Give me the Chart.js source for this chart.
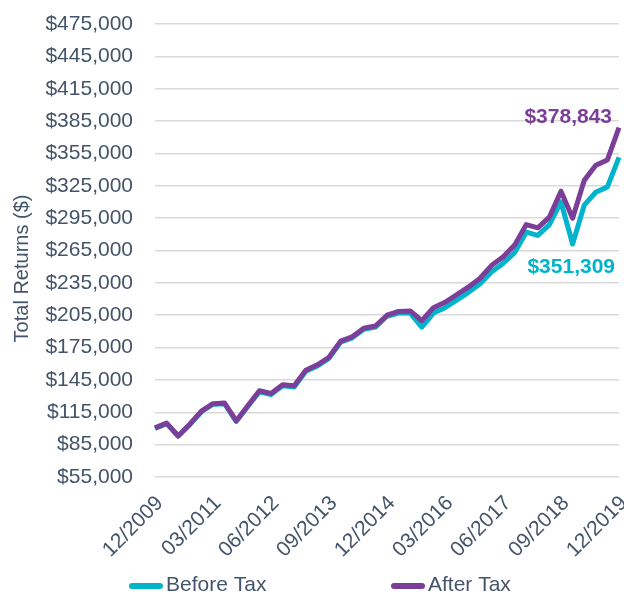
<!DOCTYPE html>
<html>
<head>
<meta charset="utf-8">
<script src="https://cdn.jsdelivr.net/npm/chart.js@4.4.1/dist/chart.umd.min.js"></script>
<style>
  html, body { margin: 0; padding: 0; background: #ffffff; }
  #wrap { width: 624px; height: 594px; }
</style>
</head>
<body>
<div id="wrap"><canvas id="returns-chart" width="624" height="594"></canvas></div>
<script>
// Quarter ends, 12/2009 .. 12/2019
const quarterLabels = [
    '12/2009', '03/2010', '06/2010', '09/2010', '12/2010',
    '03/2011', '06/2011', '09/2011', '12/2011',
    '03/2012', '06/2012', '09/2012', '12/2012',
    '03/2013', '06/2013', '09/2013', '12/2013',
    '03/2014', '06/2014', '09/2014', '12/2014',
    '03/2015', '06/2015', '09/2015', '12/2015',
    '03/2016', '06/2016', '09/2016', '12/2016',
    '03/2017', '06/2017', '09/2017', '12/2017',
    '03/2018', '06/2018', '09/2018', '12/2018',
    '03/2019', '06/2019', '09/2019', '12/2019'
];

// Total returns ($)
const beforeTax = [
    100000, 104500, 93000, 103500, 115500, 122500, 123000, 106500,
    120500, 134000, 131500, 139500, 138500, 153000, 158000, 165000,
    180000, 184000, 192000, 194000, 204000, 207000, 207000, 194000,
    207000, 212000, 219000, 226000, 234000, 245000, 253000, 263000,
    282000, 279000, 289000, 310000, 271000, 307000, 319000, 324000,
    351309
];
const afterTax = [
    100500, 105000, 93000, 104000, 116000, 123000, 123500, 107000,
    121000, 135000, 132500, 140500, 139500, 154000, 159000, 166000,
    181000, 185000, 193000, 195000, 205000, 208500, 209000, 200000,
    212000, 217000, 224000, 231000, 239000, 251000, 259000, 270000,
    289000, 286000, 296000, 320000, 295000, 330000, 344000, 349000,
    378843
];

const seriesNames = ['Before Tax', 'After Tax'];
const seriesColors = ['#00B4CB', '#7B3F9A'];

const yMin = 55000;
const yMax = 475000;
const yStep = 30000;

const textColor = '#44546A';
const gridColor = '#D9D9D9';
const fontFamily = '"Liberation Sans", Arial, sans-serif';

function money(v) {
    return '$' + Math.round(v).toLocaleString('en-US');
}

// value labels next to the last point of each line
const endLabels = {
    id: 'endLabels',
    afterDatasetsDraw(chart) {
        const ctx = chart.ctx;
        const offsets = [{ dx: -4, dy: 110 }, { dx: -7, dy: -11 }];
        ctx.save();
        ctx.font = 'bold 21px ' + fontFamily;
        ctx.textAlign = 'right';
        ctx.textBaseline = 'middle';
        chart.data.datasets.forEach((ds, i) => {
            const meta = chart.getDatasetMeta(i);
            const pt = meta.data[meta.data.length - 1];
            ctx.fillStyle = ds.borderColor;
            ctx.fillText(money(ds.data[ds.data.length - 1]), pt.x + offsets[i].dx, pt.y + offsets[i].dy);
        });
        ctx.restore();
    }
};

// axis title, a little below the middle like the original
const yTitle = {
    id: 'yTitle',
    afterDraw(chart) {
        const ctx = chart.ctx;
        const area = chart.chartArea;
        ctx.save();
        ctx.translate(22, (area.top + area.bottom) / 2 + 18);
        ctx.rotate(-Math.PI / 2);
        ctx.font = '20px ' + fontFamily;
        ctx.fillStyle = textColor;
        ctx.textAlign = 'center';
        ctx.textBaseline = 'middle';
        ctx.fillText('Total Returns ($)', 0, 0);
        ctx.restore();
    }
};

// legend along the bottom, spread out like the Excel one
const bottomLegend = {
    id: 'bottomLegend',
    afterDraw(chart) {
        const ctx = chart.ctx;
        const starts = [130, 392];
        const y = 585;
        ctx.save();
        ctx.font = '21px ' + fontFamily;
        ctx.textBaseline = 'middle';
        ctx.textAlign = 'left';
        chart.data.datasets.forEach((ds, i) => {
            ctx.strokeStyle = ds.borderColor;
            ctx.lineWidth = 6;
            ctx.lineCap = 'round';
            ctx.beginPath();
            ctx.moveTo(starts[i] + 2, y + 1);
            ctx.lineTo(starts[i] + 30, y + 1);
            ctx.stroke();
            ctx.fillStyle = textColor;
            ctx.fillText(ds.label, starts[i] + 36, y);
        });
        ctx.restore();
    }
};

const ctx = document.getElementById('returns-chart').getContext('2d');

new Chart(ctx, {
    type: 'line',
    data: {
        labels: quarterLabels,
        datasets: [
            {
                label: seriesNames[0],
                data: beforeTax,
                borderColor: seriesColors[0],
                backgroundColor: seriesColors[0],
                borderWidth: 5,
                pointRadius: 0,
                tension: 0,
                borderJoinStyle: 'round',
                order: 1
            },
            {
                label: seriesNames[1],
                data: afterTax,
                borderColor: seriesColors[1],
                backgroundColor: seriesColors[1],
                borderWidth: 5,
                pointRadius: 0,
                tension: 0,
                borderJoinStyle: 'round',
                order: 0
            }
        ]
    },
    options: {
        responsive: false,
        animation: false,
        layout: {
            padding: { top: 24, right: 5, bottom: 0, left: 0 }
        },
        scales: {
            x: {
                type: 'category',
                offset: false,
                grid: { display: false, drawTicks: false },
                border: { display: false },
                afterFit(scale) {
                    scale.height = 117;
                    // rotated labels end at the tick, no extra room needed
                    scale.paddingLeft = 0;
                    scale.paddingRight = 0;
                },
                ticks: {
                    autoSkip: false,
                    minRotation: 45,
                    maxRotation: 45,
                    padding: 14,
                    labelOffset: 5,
                    color: textColor,
                    font: { family: fontFamily, size: 21 },
                    callback(value, index) {
                        return index % 5 === 0 ? this.getLabelForValue(value) : null;
                    }
                }
            },
            y: {
                min: yMin,
                max: yMax,
                grid: {
                    color: gridColor,
                    lineWidth: 1.5,
                    drawTicks: false
                },
                border: { display: false },
                afterFit(scale) {
                    scale.width = 155;
                    scale.paddingTop = 0;
                    scale.paddingBottom = 0;
                },
                ticks: {
                    stepSize: yStep,
                    padding: 22,
                    color: textColor,
                    font: { family: fontFamily, size: 21 },
                    callback(value) {
                        return money(value);
                    }
                }
            }
        },
        plugins: {
            legend: { display: false },
            tooltip: { enabled: false }
        }
    },
    plugins: [endLabels, yTitle, bottomLegend]
});
</script>
</body>
</html>
